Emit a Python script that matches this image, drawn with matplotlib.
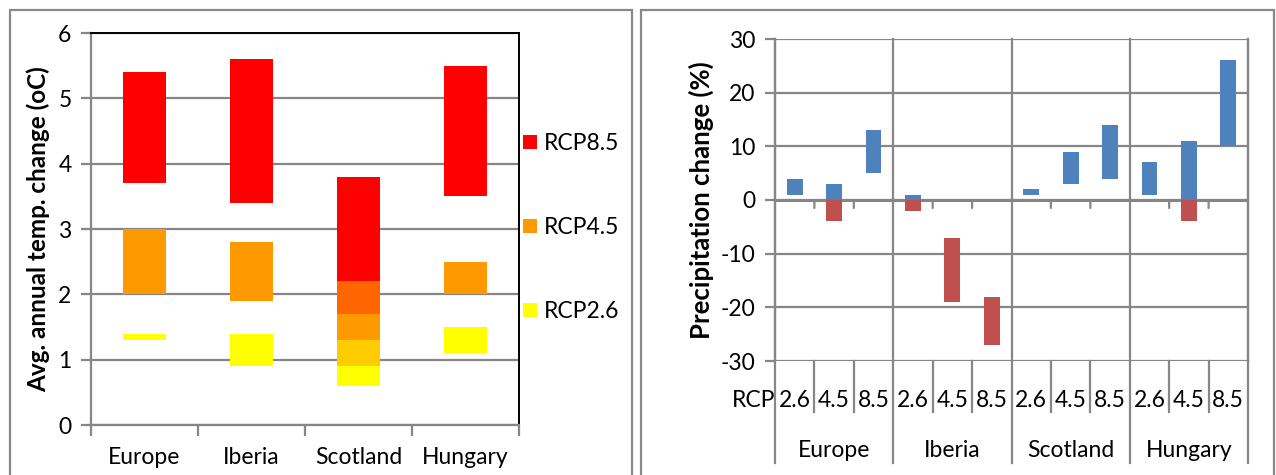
import matplotlib
matplotlib.use("Agg")
import matplotlib.pyplot as plt
from matplotlib.patches import Patch, Rectangle
import numpy as np

plt.rcParams['font.family'] = ['Lato', 'DejaVu Sans']
plt.rcParams['axes.unicode_minus'] = False

# ---------------- data ----------------
regions = ['Europe', 'Iberia', 'Scotland', 'Hungary']

# Temperature change ranges (low, high) per scenario
rcp85_low = [3.7, 3.4, 1.7, 3.5]
rcp85_high = [5.4, 5.6, 3.8, 5.5]
rcp45_low = [2.0, 1.9, 0.9, 2.0]
rcp45_high = [3.0, 2.8, 2.2, 2.5]
rcp26_low = [1.3, 0.9, 0.6, 1.1]
rcp26_high = [1.4, 1.4, 1.3, 1.5]

temp_series = ['RCP8.5', 'RCP4.5', 'RCP2.6']
temp_colors = ['#FF0000', '#FF9900', '#FFFF00']
overlap_colors = {('RCP8.5', 'RCP4.5'): '#FF6600', ('RCP4.5', 'RCP2.6'): '#FFCC00'}

# Precipitation change ranges (%), per region for RCP2.6, 4.5, 8.5
scenarios = ['2.6', '4.5', '8.5']
precip_low = {
    'Europe':   [1, -4, 5],
    'Iberia':   [-2, -19, -27],
    'Scotland': [1, 3, 4],
    'Hungary':  [1, -4, 10],
}
precip_high = {
    'Europe':   [4, 3, 13],
    'Iberia':   [1, -7, -18],
    'Scotland': [2, 9, 14],
    'Hungary':  [7, 11, 26],
}
pos_color = '#4F81BD'
neg_color = '#C0504D'

# ---------------- figure ----------------
W, H = 1276, 475
fig = plt.figure(figsize=(W / 100, H / 100), dpi=100)
GRID = '#868686'

def fx(px):
    return px / W

def fy(py):
    return 1 - py / H

# panel frames
for x0, x1 in [(10, 632), (641, 1274)]:
    fig.patches.append(Rectangle((fx(x0), fy(490)), fx(x1) - fx(x0), fy(10) - fy(490),
                                 transform=fig.transFigure, fill=False,
                                 edgecolor='#898989', lw=1.6))

FS = 16.5

# ---------------- left chart ----------------
ax1 = fig.add_axes([fx(91), fy(425), fx(519) - fx(91), fy(33) - fy(425)])
x = np.arange(len(regions))
bw = 0.4
lows = [rcp85_low, rcp45_low, rcp26_low]
highs = [rcp85_high, rcp45_high, rcp26_high]
for name, lo, hi, col in zip(temp_series, lows, highs, temp_colors):
    lo = np.array(lo); hi = np.array(hi)
    ax1.bar(x, hi - lo, bottom=lo, width=bw, color=col, label=name, zorder=3)
# overlaps between scenarios
for (a, b), col in overlap_colors.items():
    ia, ib = temp_series.index(a), temp_series.index(b)
    lo = np.maximum(np.array(lows[ia]), np.array(lows[ib]))
    hi = np.minimum(np.array(highs[ia]), np.array(highs[ib]))
    mask = hi > lo
    ax1.bar(x[mask], (hi - lo)[mask], bottom=lo[mask], width=bw, color=col, zorder=4)

ax1.set_xlim(-0.5, len(regions) - 0.5)
ax1.set_ylim(0, 6)
ax1.set_yticks(range(0, 7))
ax1.yaxis.grid(True, color=GRID, lw=1.6, zorder=1)
ax1.set_axisbelow(True)
ax1.set_xticks(x)
ax1.set_xticklabels(regions, fontsize=FS)
ax1.set_xticks(np.arange(-0.5, len(regions)), minor=True)
ax1.tick_params(axis='x', which='major', length=0, pad=16)
ax1.tick_params(axis='x', which='minor', length=8, width=1.6, color=GRID, direction='out')
ax1.tick_params(axis='y', length=7, width=1.6, color=GRID, labelsize=FS, pad=7)
ax1.spines['left'].set_color(GRID)
ax1.spines['bottom'].set_color(GRID)
ax1.spines['left'].set_linewidth(1.6)
ax1.spines['bottom'].set_linewidth(1.6)
ax1.spines['top'].set_color('black')
ax1.spines['right'].set_color('black')
ax1.spines['top'].set_linewidth(1.4)
ax1.spines['right'].set_linewidth(1.4)
ax1.set_ylabel('Avg. annual temp. change (oC)', fontsize=17.5, fontweight='bold', labelpad=6)

handles = [Patch(facecolor=c, edgecolor='none') for c in temp_colors]
ax1.legend(handles, temp_series, loc='upper left', bbox_to_anchor=(fx(523), fy(133)),
           bbox_transform=fig.transFigure, frameon=False, fontsize=FS,
           handlelength=0.62, handleheight=0.62, handletextpad=0.3, labelspacing=2.75,
           borderpad=0, borderaxespad=0)

# ---------------- right chart ----------------
ax2 = fig.add_axes([fx(775), fy(361), fx(1248) - fx(775), fy(39) - fy(361)])
n = len(regions) * len(scenarios)
xs = np.arange(n)
lo_all = np.array([v for r in regions for v in precip_low[r]], dtype=float)
hi_all = np.array([v for r in regions for v in precip_high[r]], dtype=float)
pos_lo = np.maximum(lo_all, 0); pos_hi = hi_all
pm = pos_hi > pos_lo
ax2.bar(xs[pm], (pos_hi - pos_lo)[pm], bottom=pos_lo[pm], width=bw, color=pos_color, zorder=3)
neg_lo = lo_all; neg_hi = np.minimum(hi_all, 0)
nm = neg_hi > neg_lo
ax2.bar(xs[nm], (neg_hi - neg_lo)[nm], bottom=neg_lo[nm], width=bw, color=neg_color, zorder=3)

ax2.set_xlim(-0.5, n - 0.5)
ax2.set_ylim(-30, 30)
ax2.set_yticks(range(-30, 31, 10))
ax2.yaxis.grid(True, color=GRID, lw=1.6, zorder=1)
ax2.set_axisbelow(True)
ax2.tick_params(axis='y', length=7, width=1.6, color=GRID, labelsize=FS, pad=7)
ax2.set_xticks([])
for s in ['top', 'bottom']:
    ax2.spines[s].set_visible(False)
for s in ['left', 'right']:
    ax2.spines[s].set_color(GRID)
    ax2.spines[s].set_linewidth(1.6)
ax2.set_ylabel('Precipitation change (%)', fontsize=18.5, fontweight='bold', labelpad=5)

# zero axis with ticks at category boundaries
ax2.axhline(0, color=GRID, lw=2.2, zorder=2)
ng = len(scenarios)
xtr = ax2.get_xaxis_transform()
for b in np.arange(-0.5, n):
    is_group = int(round(b + 0.5)) % ng == 0
    if is_group:
        ax2.plot([b, b], [0, 1], transform=xtr, color=GRID, lw=1.6, zorder=1, clip_on=False)
        ax2.plot([b, b], [0, -(463 - 361) / 322], transform=xtr,
                 color=GRID, lw=1.6, clip_on=False)
    else:
        ax2.plot([b, b], [0, -(412 - 361) / 322], transform=xtr,
                 color=GRID, lw=1.6, clip_on=False)
        ax2.annotate('', xy=(b, 0), xycoords='data', xytext=(0, -8 * 0.72),
                     textcoords='offset points',
                     arrowprops=dict(arrowstyle='-', color=GRID, lw=1.6, shrinkA=0, shrinkB=0))

# category labels
for i in range(n):
    ax2.annotate(scenarios[i % ng], xy=(xs[i], 0), xycoords=('data', 'axes fraction'),
                 xytext=(0, -46 * 0.72), textcoords='offset points',
                 ha='center', va='baseline', fontsize=FS)
ax2.annotate('RCP', xy=(-0.5, 0), xycoords=('data', 'axes fraction'),
             xytext=(0, -46 * 0.72), textcoords='offset points',
             ha='right', va='baseline', fontsize=FS)
for g, r in enumerate(regions):
    ax2.annotate(r, xy=(g * ng + (ng - 1) / 2, 0), xycoords=('data', 'axes fraction'),
                 xytext=(0, -96 * 0.72), textcoords='offset points',
                 ha='center', va='baseline', fontsize=FS)

fig.savefig('out.png', dpi=100)
